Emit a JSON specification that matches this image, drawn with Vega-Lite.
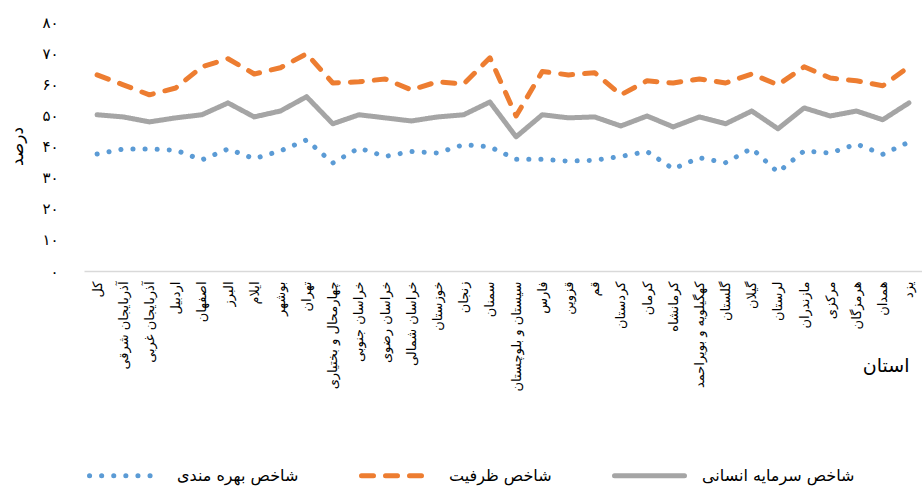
{
  "$schema": "https://vega.github.io/schema/vega-lite/v6.json",
  "width": 838,
  "height": 249,
  "autosize": {"type": "none"},
  "padding": {"left": 84, "top": 22, "right": 0, "bottom": 215},
  "background": "white",
  "config": {"view": {"stroke": null}, "font": "DejaVu Sans"},
  "data": {"values": [
    {"p":"کل","s":"شاخص بهره مندی","v":37.6},{"p":"کل","s":"شاخص ظرفیت","v":63.0},{"p":"کل","s":"شاخص سرمایه انسانی","v":50.2},
    {"p":"آذربایجان شرقی","s":"شاخص بهره مندی","v":39.2},{"p":"آذربایجان شرقی","s":"شاخص ظرفیت","v":59.8},{"p":"آذربایجان شرقی","s":"شاخص سرمایه انسانی","v":49.5},
    {"p":"آذربایجان غربی","s":"شاخص بهره مندی","v":39.2},{"p":"آذربایجان غربی","s":"شاخص ظرفیت","v":56.6},{"p":"آذربایجان غربی","s":"شاخص سرمایه انسانی","v":47.9},
    {"p":"اردبیل","s":"شاخص بهره مندی","v":38.8},{"p":"اردبیل","s":"شاخص ظرفیت","v":58.8},{"p":"اردبیل","s":"شاخص سرمایه انسانی","v":49.2},
    {"p":"اصفهان","s":"شاخص بهره مندی","v":35.7},{"p":"اصفهان","s":"شاخص ظرفیت","v":65.6},{"p":"اصفهان","s":"شاخص سرمایه انسانی","v":50.2},
    {"p":"البرز","s":"شاخص بهره مندی","v":39.2},{"p":"البرز","s":"شاخص ظرفیت","v":68.2},{"p":"البرز","s":"شاخص سرمایه انسانی","v":54.0},
    {"p":"ایلام","s":"شاخص بهره مندی","v":36.1},{"p":"ایلام","s":"شاخص ظرفیت","v":63.3},{"p":"ایلام","s":"شاخص سرمایه انسانی","v":49.5},
    {"p":"بوشهر","s":"شاخص بهره مندی","v":38.6},{"p":"بوشهر","s":"شاخص ظرفیت","v":65.3},{"p":"بوشهر","s":"شاخص سرمایه انسانی","v":51.4},
    {"p":"تهران","s":"شاخص بهره مندی","v":42.1},{"p":"تهران","s":"شاخص ظرفیت","v":69.8},{"p":"تهران","s":"شاخص سرمایه انسانی","v":56.0},
    {"p":"چهارمحال و بختیاری","s":"شاخص بهره مندی","v":34.7},{"p":"چهارمحال و بختیاری","s":"شاخص ظرفیت","v":60.4},{"p":"چهارمحال و بختیاری","s":"شاخص سرمایه انسانی","v":47.3},
    {"p":"خراسان جنوبی","s":"شاخص بهره مندی","v":39.5},{"p":"خراسان جنوبی","s":"شاخص ظرفیت","v":60.8},{"p":"خراسان جنوبی","s":"شاخص سرمایه انسانی","v":50.2},
    {"p":"خراسان رضوی","s":"شاخص بهره مندی","v":36.8},{"p":"خراسان رضوی","s":"شاخص ظرفیت","v":61.7},{"p":"خراسان رضوی","s":"شاخص سرمایه انسانی","v":49.2},
    {"p":"خراسان شمالی","s":"شاخص بهره مندی","v":38.4},{"p":"خراسان شمالی","s":"شاخص ظرفیت","v":58.2},{"p":"خراسان شمالی","s":"شاخص سرمایه انسانی","v":48.2},
    {"p":"خوزستان","s":"شاخص بهره مندی","v":37.9},{"p":"خوزستان","s":"شاخص ظرفیت","v":60.8},{"p":"خوزستان","s":"شاخص سرمایه انسانی","v":49.5},
    {"p":"زنجان","s":"شاخص بهره مندی","v":40.6},{"p":"زنجان","s":"شاخص ظرفیت","v":60.1},{"p":"زنجان","s":"شاخص سرمایه انسانی","v":50.2},
    {"p":"سمنان","s":"شاخص بهره مندی","v":39.9},{"p":"سمنان","s":"شاخص ظرفیت","v":68.5},{"p":"سمنان","s":"شاخص سرمایه انسانی","v":54.3},
    {"p":"سیستان و بلوچستان","s":"شاخص بهره مندی","v":35.9},{"p":"سیستان و بلوچستان","s":"شاخص ظرفیت","v":49.8},{"p":"سیستان و بلوچستان","s":"شاخص سرمایه انسانی","v":43.1},
    {"p":"فارس","s":"شاخص بهره مندی","v":35.9},{"p":"فارس","s":"شاخص ظرفیت","v":64.1},{"p":"فارس","s":"شاخص سرمایه انسانی","v":50.2},
    {"p":"قزوین","s":"شاخص بهره مندی","v":35.3},{"p":"قزوین","s":"شاخص ظرفیت","v":63.0},{"p":"قزوین","s":"شاخص سرمایه انسانی","v":49.2},
    {"p":"قم","s":"شاخص بهره مندی","v":35.6},{"p":"قم","s":"شاخص ظرفیت","v":63.7},{"p":"قم","s":"شاخص سرمایه انسانی","v":49.5},
    {"p":"کردستان","s":"شاخص بهره مندی","v":36.8},{"p":"کردستان","s":"شاخص ظرفیت","v":56.6},{"p":"کردستان","s":"شاخص سرمایه انسانی","v":46.6},
    {"p":"کرمان","s":"شاخص بهره مندی","v":38.4},{"p":"کرمان","s":"شاخص ظرفیت","v":61.1},{"p":"کرمان","s":"شاخص سرمایه انسانی","v":49.8},
    {"p":"کرمانشاه","s":"شاخص بهره مندی","v":32.8},{"p":"کرمانشاه","s":"شاخص ظرفیت","v":60.4},{"p":"کرمانشاه","s":"شاخص سرمایه انسانی","v":46.3},
    {"p":"کهگیلویه و بویراحمد","s":"شاخص بهره مندی","v":36.4},{"p":"کهگیلویه و بویراحمد","s":"شاخص ظرفیت","v":61.7},{"p":"کهگیلویه و بویراحمد","s":"شاخص سرمایه انسانی","v":49.5},
    {"p":"گلستان","s":"شاخص بهره مندی","v":34.8},{"p":"گلستان","s":"شاخص ظرفیت","v":60.4},{"p":"گلستان","s":"شاخص سرمایه انسانی","v":47.3},
    {"p":"گیلان","s":"شاخص بهره مندی","v":39.4},{"p":"گیلان","s":"شاخص ظرفیت","v":63.3},{"p":"گیلان","s":"شاخص سرمایه انسانی","v":51.4},
    {"p":"لرستان","s":"شاخص بهره مندی","v":31.7},{"p":"لرستان","s":"شاخص ظرفیت","v":59.8},{"p":"لرستان","s":"شاخص سرمایه انسانی","v":45.7},
    {"p":"مازندران","s":"شاخص بهره مندی","v":38.6},{"p":"مازندران","s":"شاخص ظرفیت","v":65.6},{"p":"مازندران","s":"شاخص سرمایه انسانی","v":52.4},
    {"p":"مرکزی","s":"شاخص بهره مندی","v":37.9},{"p":"مرکزی","s":"شاخص ظرفیت","v":62.0},{"p":"مرکزی","s":"شاخص سرمایه انسانی","v":49.8},
    {"p":"هرمزگان","s":"شاخص بهره مندی","v":40.8},{"p":"هرمزگان","s":"شاخص ظرفیت","v":61.1},{"p":"هرمزگان","s":"شاخص سرمایه انسانی","v":51.4},
    {"p":"همدان","s":"شاخص بهره مندی","v":37.5},{"p":"همدان","s":"شاخص ظرفیت","v":59.5},{"p":"همدان","s":"شاخص سرمایه انسانی","v":48.6},
    {"p":"یزد","s":"شاخص بهره مندی","v":41.4},{"p":"یزد","s":"شاخص ظرفیت","v":65.6},{"p":"یزد","s":"شاخص سرمایه انسانی","v":54.0}
  ]},
  "mark": {"type": "line", "strokeWidth": 5, "strokeCap": "round", "strokeJoin": "round"},
  "encoding": {
    "x": {
      "field": "p", "type": "nominal", "sort": null,
      "scale": {"type": "point", "padding": 0.5},
      "axis": {
        "title": "استان", "titleFontSize": 19, "titleFontWeight": "normal", "titleColor": "#000",
        "titleAlign": "right", "titleAnchor": null, "titleX": 825, "titleY": 94, "titleBaseline": "middle", "titleAngle": 0,
        "labelAngle": -90, "labelFontSize": 13, "labelColor": "#000", "labelPadding": 10,
        "ticks": false, "domainColor": "#d9d9d9", "domainWidth": 1.5, "grid": false, "labelOverlap": false, "labelLimit": 200
      }
    },
    "y": {
      "field": "v", "type": "quantitative",
      "scale": {"domain": [0, 80], "nice": false},
      "axis": {
        "title": "درصد", "titleFontSize": 17, "titleFontWeight": "normal", "titleColor": "#000",
        "titleX": -67, "titleY": 124, "titleAngle": -90, "titleBaseline": "middle", "titleAlign": "center", "titleAnchor": null,
        "values": [0, 10, 20, 30, 40, 50, 60, 70, 80],
        "labelExpr": "['۰','۱۰','۲۰','۳۰','۴۰','۵۰','۶۰','۷۰','۸۰'][round(datum.value/10)]",
        "labelFontSize": 15, "labelColor": "#000", "labelPadding": 26,
        "domain": false, "ticks": false, "grid": false
      }
    },
    "color": {
      "field": "s", "type": "nominal",
      "scale": {"domain": ["شاخص بهره مندی", "شاخص ظرفیت", "شاخص سرمایه انسانی"], "range": ["#5B9BD5", "#ED7D31", "#A5A5A5"]},
      "legend": {
        "title": null, "orient": "none", "legendX": 3, "legendY": 416, "direction": "horizontal",
        "symbolType": "stroke", "symbolSize": 4900, "symbolStrokeWidth": 5,
        "labelFontSize": 16, "labelColor": "#000", "labelOffset": 15, "columnPadding": 52, "labelLimit": 300,
        "encode": {"symbols": {"update": {"strokeCap": {"value": "round"}}}}
      }
    },
    "strokeDash": {
      "field": "s", "type": "nominal",
      "scale": {"domain": ["شاخص بهره مندی", "شاخص ظرفیت", "شاخص سرمایه انسانی"], "range": [[0.1, 12], [12, 12], [1, 0]]},
      "legend": {
        "title": null, "orient": "none", "legendX": 3, "legendY": 416, "direction": "horizontal",
        "symbolType": "stroke", "symbolSize": 4900, "symbolStrokeWidth": 5,
        "labelFontSize": 16, "labelColor": "#000", "labelOffset": 15, "columnPadding": 52, "labelLimit": 300,
        "encode": {"symbols": {"update": {"strokeCap": {"value": "round"}}}}
      }
    }
  }
}
